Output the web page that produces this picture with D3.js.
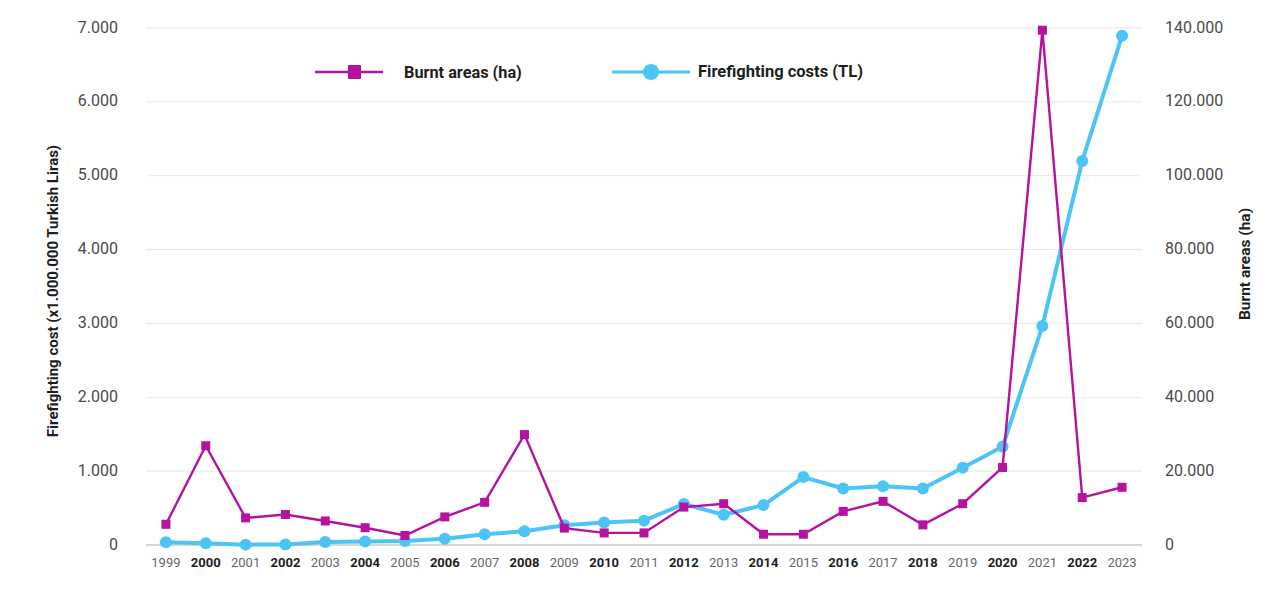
<!DOCTYPE html>
<html><head><meta charset="utf-8">
<script src="https://cdn.jsdelivr.net/npm/d3@7"></script>
<style>body{margin:0;background:#fff;font-family:Roboto,"Noto Sans",sans-serif}</style>
</head><body><svg id="c" width="1287" height="609"></svg>
<script>
const years = ["1999","2000","2001","2002","2003","2004","2005","2006","2007","2008","2009","2010","2011","2012","2013","2014","2015","2016","2017","2018","2019","2020","2021","2022","2023"];
const costs = [37,25,5,8,40,46,55,85,145,185,268,305,330,555,410,540,920,765,795,765,1045,1330,2965,5200,6895];
const burnt = [5590,26870,7340,8250,6510,4680,2570,7610,11550,29900,4580,3270,3270,10270,11180,2910,2910,9090,11820,5450,11180,21000,139400,12840,15630];
const leftTicks = [0,1000,2000,3000,4000,5000,6000,7000];
const rightTicks = [0,20000,40000,60000,80000,100000,120000,140000];

const svg = d3.select("#c");
const M = {l:146, r:1142, t:28, b:545};
const x = d3.scaleBand().domain(years).range([M.l, M.r]);
const yL = d3.scaleLinear().domain([0,7000]).range([M.b, M.t]);
const yR = d3.scaleLinear().domain([0,140000]).range([M.b, M.t]);
const fmt = v => v === 0 ? "0" : d3.format(",")(v).replace(/,/g, ".");
const cx = d => x(d) + x.bandwidth()/2;
const MAG = "#b5129f", CYAN = "#4cc4f6";

// gridlines
svg.append("g").selectAll("line").data(leftTicks.slice(1)).join("line")
  .attr("x1", M.l).attr("x2", M.r).attr("y1", d=>yL(d)).attr("y2", d=>yL(d))
  .attr("stroke", "#e8e8e8").attr("stroke-width", 1);
svg.append("line").attr("x1", M.l).attr("x2", M.r).attr("y1", M.b).attr("y2", M.b)
  .attr("stroke", "#c8c8c8").attr("stroke-width", 1.5);

// left axis labels
svg.append("g").selectAll("text").data(leftTicks).join("text")
  .attr("x", 118).attr("y", d=>yL(d)-1).attr("dy", "0.35em").attr("text-anchor","end")
  .attr("font-size", 16).attr("fill", "#4a4a4a").text(fmt);
// right axis labels
svg.append("g").selectAll("text").data(rightTicks).join("text")
  .attr("x", 1165).attr("y", d=>yR(d)-1).attr("dy", "0.35em").attr("text-anchor","start")
  .attr("font-size", 16).attr("fill", "#4a4a4a").text(fmt);

// x labels
svg.append("g").selectAll("text").data(years).join("text")
  .attr("x", cx).attr("y", 567).attr("text-anchor","middle")
  .attr("font-size", 13)
  .attr("font-weight", (d,i)=> i%2===1 ? "bold" : "normal")
  .attr("fill", (d,i)=> i%2===1 ? "#1e1e1e" : "#666")
  .text(d=>d);

// axis titles
svg.append("text").attr("transform","translate(58,291) rotate(-90)")
  .attr("text-anchor","middle").attr("font-size",15).attr("font-weight","bold").attr("fill","#1e1e1e")
  .text("Firefighting cost (x1.000.000 Turkish Liras)");
svg.append("text").attr("transform","translate(1250,264) rotate(-90)")
  .attr("text-anchor","middle").attr("font-size",15.5).attr("font-weight","bold").attr("fill","#1e1e1e")
  .text("Burnt areas (ha)");

// lines
const lineC = d3.line().x((d,i)=>cx(years[i])).y(d=>yL(d));
const lineB = d3.line().x((d,i)=>cx(years[i])).y(d=>yR(d));
svg.append("path").attr("d", lineC(costs)).attr("fill","none").attr("stroke",CYAN).attr("stroke-width",4).attr("stroke-linejoin","round");
svg.append("g").selectAll("circle").data(costs).join("circle")
  .attr("cx",(d,i)=>cx(years[i])).attr("cy",d=>yL(d)).attr("r",6).attr("fill",CYAN);
svg.append("path").attr("d", lineB(burnt)).attr("fill","none").attr("stroke",MAG).attr("stroke-width",2.4);
svg.append("g").selectAll("rect").data(burnt).join("rect")
  .attr("x",(d,i)=>cx(years[i])-4.5).attr("y",d=>yR(d)-4.5).attr("width",9).attr("height",9).attr("fill",MAG);

// legend
const lg = svg.append("g");
lg.append("line").attr("x1",315).attr("x2",383).attr("y1",72).attr("y2",72).attr("stroke",MAG).attr("stroke-width",2.5);
lg.append("rect").attr("x",348).attr("y",65).attr("width",13).attr("height",14).attr("fill",MAG);
lg.append("text").attr("x",404).attr("y",72).attr("dy","0.35em").attr("font-size",16.3).attr("font-weight","bold").attr("fill","#1e1e1e").text("Burnt areas (ha)");
lg.append("line").attr("x1",612).attr("x2",690).attr("y1",72).attr("y2",72).attr("stroke",CYAN).attr("stroke-width",3);
lg.append("circle").attr("cx",651).attr("cy",72).attr("r",8).attr("fill",CYAN);
lg.append("text").attr("x",698).attr("y",71).attr("dy","0.35em").attr("font-size",16.5).attr("font-weight","bold").attr("fill","#1e1e1e").text("Firefighting costs (TL)");
</script></body></html>
